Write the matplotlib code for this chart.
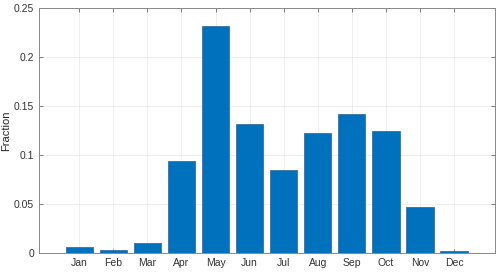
import matplotlib
matplotlib.use("Agg")
import matplotlib.pyplot as plt

months = ["Jan", "Feb", "Mar", "Apr", "May", "Jun", "Jul", "Aug", "Sep", "Oct", "Nov", "Dec"]
fraction = [0.0061, 0.0034, 0.0108, 0.0945, 0.232, 0.1316, 0.085, 0.1224, 0.1421, 0.1245, 0.0469, 0.0020]
yticks = [0, 0.05, 0.1, 0.15, 0.2, 0.25]
ytick_labels = ["0", "0.05", "0.1", "0.15", "0.2", "0.25"]

plt.rcParams['font.family'] = ['Liberation Sans', 'DejaVu Sans']

fig = plt.figure(figsize=(5, 2.74), dpi=100)
ax = fig.add_axes([0.078, 0.0755, 0.912, 0.894])

x = list(range(1, len(months) + 1))
ax.bar(x, fraction, width=0.8, color='#0072BD', edgecolor='#3b6f9e', linewidth=0.6, zorder=3)

ax.set_xlim(-0.18, 13.2)
ax.set_ylim(0, 0.25)
ax.set_xticks(x)
ax.set_xticklabels(months)
ax.set_yticks(yticks)
ax.set_yticklabels(ytick_labels)
ax.set_ylabel("Fraction", fontsize=8, color='#262626')
ax.yaxis.set_label_coords(-0.062, 0.5)

ax.grid(True, color='#ebebeb', linewidth=0.6, zorder=0)
ax.tick_params(direction='in', length=3, width=0.6, colors='#666666', labelcolor='#333333',
               labelsize=7.5, top=True, right=True)
for s in ax.spines.values():
    s.set_color('#888888')
    s.set_linewidth(0.7)

fig.savefig("out.png", dpi=100)
